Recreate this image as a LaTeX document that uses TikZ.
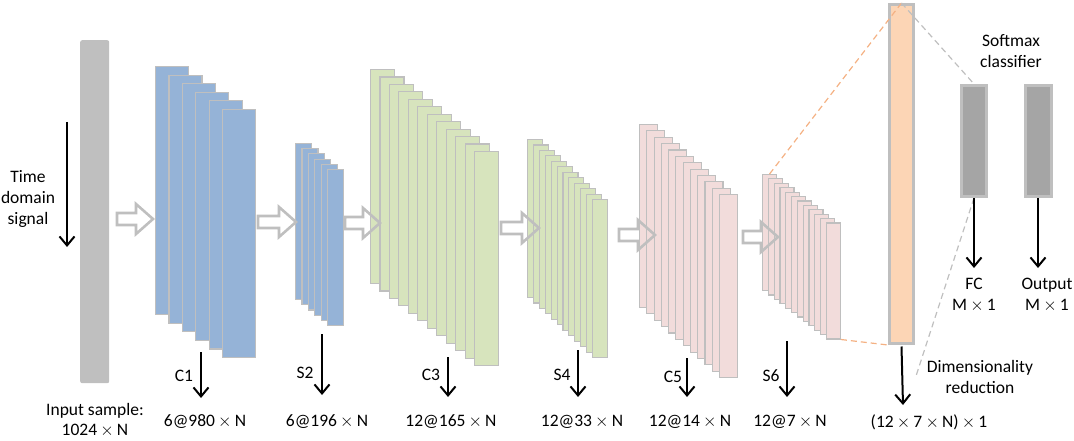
\documentclass[tikz,border=0pt]{standalone}
\usepackage{fontspec}
\setmainfont{Carlito}
\usetikzlibrary{arrows.meta}
\definecolor{ingray}{HTML}{BFBFBF}
\definecolor{edge}{HTML}{BFBFBF}
\definecolor{cblue}{HTML}{95B3D7}
\definecolor{cgreen}{HTML}{D7E4BD}
\definecolor{cpink}{HTML}{F2DCDB}
\definecolor{corange}{HTML}{FCD5B5}
\definecolor{dorange}{HTML}{F4B183}
\definecolor{fcgray}{HTML}{A5A5A5}
\newcommand\X{\kern0.18em$\times$\kern0.18em}
\newcommand\mkstack[9]{%
  \foreach \i in {1,...,#2}{%
    \node[fmap,fill=#9,minimum width=#7pt,minimum height=#8pt]
      (#1-\i) at ({#3+(\i-1)*#5},{#4+(\i-1)*#6}) {};}}
\begin{document}
\begin{tikzpicture}[x=1pt,y=-1pt,
  font=\fontsize{17.5}{21}\selectfont,
  fmap/.style={draw=edge,line width=1.1pt,anchor=north west,inner sep=0pt},
  hollowarrow/.style={draw=ingray,line width=2.6pt,line join=miter},
  lblarrow/.style={line width=2pt,-{Straight Barb[length=9pt,width=15pt,line width=2pt]}},
  dashor/.style={draw=dorange,line width=1.2pt,dash pattern=on 6pt off 4pt},
  dashgr/.style={draw=edge,line width=1.2pt,dash pattern=on 6pt off 4pt},
  txt/.style={align=center,inner sep=0pt},
  dense/.style={draw=edge,line width=3pt,inner sep=0pt}]
\useasboundingbox (0,0) rectangle (1074,441);

% input bar
\node[fill=ingray,rounded corners=2pt,minimum width=29pt,minimum height=343pt,inner sep=0pt,anchor=north west] (in) at (80,40) {};

% stacks
\mkstack{c1}{6}{155}{66}{13.4}{8.6}{33}{248}{cblue}
\mkstack{s2}{6}{295}{143}{6.4}{5.2}{16}{156}{cblue}
\mkstack{c3}{12}{370}{69}{9.45}{7.45}{24}{214}{cgreen}
\mkstack{s4}{12}{527}{139}{5.9}{5.45}{15}{158}{cgreen}
\mkstack{c5}{12}{639}{124}{7.27}{6.36}{18}{183}{cpink}
\mkstack{s6}{12}{762}{174}{5.8}{4.4}{14}{116}{cpink}

% flattened bar, FC, output
\node[dense,fill=corange,minimum width=24pt,minimum height=339pt] (bar) at (901.5,174) {};
\node[dense,fill=fcgray,minimum width=25pt,minimum height=111pt] (fc) at (974,141) {};
\node[dense,fill=fcgray,minimum width=26pt,minimum height=111pt] (out) at (1038,141) {};

% hollow arrows
\foreach \xa/\xb/\yy in {117/153/219, 258/296/222, 345/380/223, 501/539/228, 619/655/235, 743/778/237}{
  \draw[hollowarrow] (\xa,\yy-6) -- (\xb-17,\yy-6) -- (\xb-17,\yy-15) -- (\xb,\yy)
     -- (\xb-17,\yy+15) -- (\xb-17,\yy+6) -- (\xa,\yy+6) -- cycle;}

% dashed projections
\draw[dashor] (s6-1.north) -- (bar.north);
\draw[dashor] (s6-12.south east) -- (bar.south west);
\draw[dashgr] (bar.north) -- (fc.north);
\coordinate (dimend) at (916,376);
\draw[dashgr] (fc.south) -- (dimend);

% label arrows
\coordinate (t1) at (67,122); \coordinate (t2) at (67,247);
\coordinate (a1) at (201,352); \coordinate (a2) at (201,398);
\coordinate (b1) at (322,334); \coordinate (b2) at (322,395);
\coordinate (c1a) at (448,357); \coordinate (c2) at (448,397);
\coordinate (d1) at (578,350); \coordinate (d2) at (578,397);
\coordinate (e1) at (687,358); \coordinate (e2) at (687,397);
\coordinate (f1) at (787,341); \coordinate (f2) at (787,397);
\coordinate (g2) at (903,405);
\coordinate (h2) at (974,268);
\coordinate (k2) at (1038,268);
\draw[lblarrow] (t1) -- (t2);
\draw[lblarrow] (a1) -- (a2);
\draw[lblarrow] (b1) -- (b2);
\draw[lblarrow] (c1a) -- (c2);
\draw[lblarrow] (d1) -- (d2);
\draw[lblarrow] (e1) -- (e2);
\draw[lblarrow] (f1) -- (f2);
\draw[lblarrow] (bar.south) ++(0,1.5) -- (g2);
\draw[lblarrow] (fc.south) -- (h2);
\draw[lblarrow] (out.south) -- (k2);

% texts
\node[txt] (tds) at (28,199) {Time\\domain\\signal};
\node[txt] (lc1) at (184,376) {C1};
\node[txt] (ls2) at (305,373) {S2};
\node[txt] (lc3) at (431,375) {C3};
\node[txt] (ls4) at (562,375) {S4};
\node[txt] (lc5) at (673,377) {C5};
\node[txt] (ls6) at (771,376) {S6};
\node[txt,font=\fontsize{17.5}{20}\selectfont] (insz) at (95,420) {Input sample:\\1024\X N};
\node[txt] (zc1) at (205,422) {6@980\X N};
\node[txt] (zs2) at (327,422) {6@196\X N};
\node[txt] (zc3) at (451,422) {12@165\X N};
\node[txt] (zs4) at (582,422) {12@33\X N};
\node[txt] (zc5) at (690,422) {12@14\X N};
\node[txt] (zs6) at (790,422) {12@7\X N};
\node[txt] (zbar) at (929,422) {(12\X 7\X N)\X 1};
\node[txt] (dimr) at (980,377) {Dimensionality\\reduction};
\node[txt] (lfc) at (974,295) {FC\\M\X 1};
\node[txt] (lout) at (1047,295) {Output\\M\X 1};
\node[txt] (soft) at (1011,51) {Softmax\\classifier};
\end{tikzpicture}
\end{document}
